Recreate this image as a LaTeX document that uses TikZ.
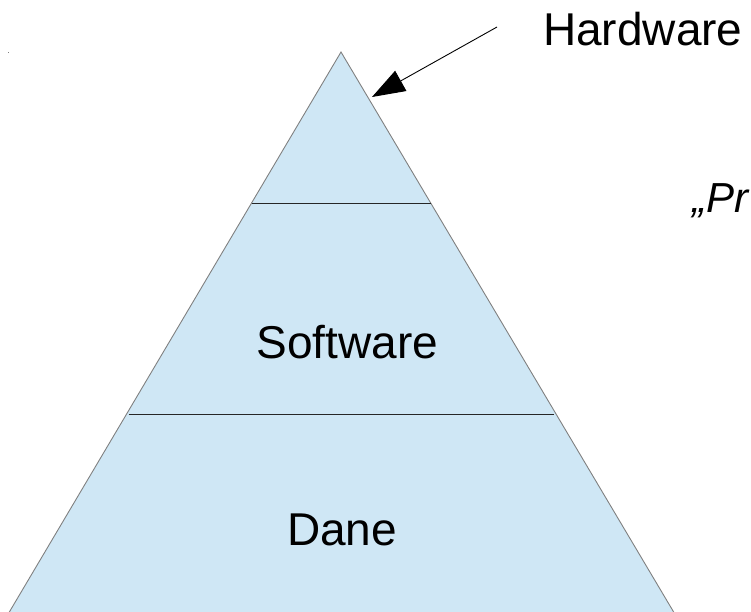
\documentclass[tikz,border=0pt]{standalone}
\usepackage{fontspec}
\setmainfont{Liberation Sans}
\usetikzlibrary{arrows.meta}
\definecolor{pyrfill}{HTML}{CFE7F5}
\definecolor{pyredge}{HTML}{808080}
\tikzset{
  lbl/.style={inner sep=0pt, anchor=base, font=\fontsize{46}{50}\selectfont},
  divider/.style={draw=black!85, line width=0.9pt},
}
\begin{document}
\begin{tikzpicture}[x=1pt,y=-1pt]
\useasboundingbox (0,0) rectangle (751,611);
\clip (0,0) rectangle (751,611);
% pyramid
\coordinate (apex) at (341,52);
\coordinate (bl) at (4,621);
\coordinate (br) at (679,621);
\fill[pyrfill] (apex) -- (bl) -- (br) -- cycle;
\draw[pyredge, line width=0.9pt] (bl) -- (apex) -- (br);
% dividers
\coordinate (d1l) at (251.5,203);
\coordinate (d1r) at (430.5,203);
\coordinate (d2l) at (128.5,414.5);
\coordinate (d2r) at (553.5,414.5);
\draw[divider] (d1l) -- (d1r);
\draw[divider] (d2l) -- (d2r);
% labels
\node[lbl] (soft) at (347.5,358) {Software};
\node[lbl] (dane) at (342,545) {Dane};
\node[lbl, anchor=base west] (hard) at (543,45) {Hardware};
\node[inner sep=0pt, anchor=base west, font=\fontsize{42}{46}\selectfont\itshape] (pr) at (692,212) {„Pr};
% arrow
\coordinate (astart) at (497,27);
\coordinate (atip) at (372,97);
\draw[black, line width=0.9pt, -{Triangle[length=33pt,width=23pt]}] (astart) -- (atip);
% tiny mark
\fill[gray] (7.5,51.5) rectangle (8.8,52.8);
\end{tikzpicture}
\end{document}
